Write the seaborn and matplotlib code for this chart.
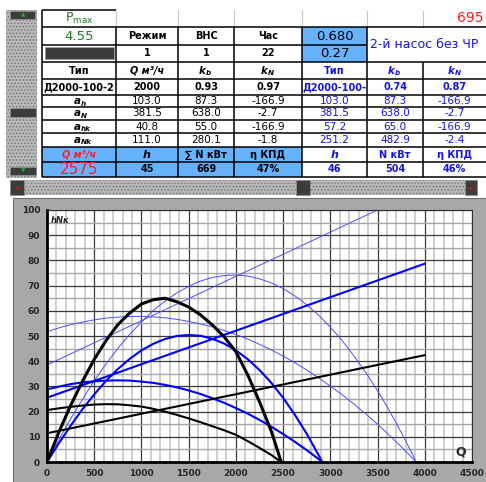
import matplotlib
matplotlib.use('Agg')
import matplotlib.pyplot as plt
import seaborn as sns
from matplotlib.patches import Rectangle

sns.set_style("white")
plt.rcParams['font.family'] = ['DejaVu Sans']
plt.rcParams['hatch.linewidth'] = 0.7

# ---- table values -------------------------------------------------------
p_max = "4.55"
total_power = "695"
mode_val, vns_val, hour_val = "1", "1", "22"
coef_top, coef_bottom = "0.680", "0.27"
second_pump_note = "2-й насос без ЧР"
pump_types = ["Д2000-100-2", "Д2000-100-"]
q_nominal = "2000"
k_b = ["0.93", "0.74"]
k_n = ["0.97", "0.87"]
a_h = [["103.0", "87.3", "-166.9"], ["103.0", "87.3", "-166.9"]]
a_n = [["381.5", "638.0", "-2.7"], ["381.5", "638.0", "-2.7"]]
a_hk = [["40.8", "55.0", "-166.9"], ["57.2", "65.0", "-166.9"]]
a_nk = [["111.0", "280.1", "-1.8"], ["251.2", "482.9", "-2.4"]]
q_total = "2575"
h_result = ["45", "46"]
n_result = ["669", "504"]
eta_result = ["47%", "46%"]

# ---- chart curves -------------------------------------------------------
q_black = [0, 125, 250, 375, 500, 625, 750, 875, 1000, 1125, 1250, 1375,
           1500, 1625, 1750, 1875, 2000, 2125, 2250, 2375, 2480]
h_black = [20.6, 21.3, 21.9, 22.4, 22.8, 22.95, 22.9, 22.5, 22.0, 21.1, 20.0,
           18.7, 17.3, 15.8, 14.2, 12.6, 10.8, 8.3, 5.6, 2.8, 0]
eta_black = [0, 11.8, 22.4, 32.0, 40.7, 48.2, 54.5, 59.1, 62.7, 64.4, 65.0,
             63.6, 61.5, 58.4, 54.4, 49.7, 43.8, 34.6, 23.9, 12.2, 0]

q_mid = [0, 125, 250, 375, 500, 625, 750, 875, 1000, 1125, 1250, 1375, 1500,
         1625, 1750, 1875, 2000, 2125, 2250, 2375, 2500, 2625, 2750, 2875, 2914]
h_mid = [28.8, 29.9, 30.9, 31.6, 32.0, 32.3, 32.4, 32.3, 31.9, 31.4, 30.6,
         29.6, 28.4, 27.0, 25.3, 23.5, 21.4, 19.2, 16.7, 14.0, 11.1, 8.0, 4.7,
         1.2, 0]
eta_mid = [0, 7.4, 14.4, 20.9, 26.8, 32.2, 36.9, 40.9, 44.3, 46.9, 48.8, 50.0,
           50.4, 50.1, 48.9, 47.0, 44.3, 40.8, 36.5, 31.4, 25.5, 18.7, 11.2,
           2.8, 0]

q_thin = [0, 125, 250, 375, 500, 625, 750, 875, 1000, 1125, 1250, 1375, 1500,
          1625, 1750, 1875, 2000, 2125, 2250, 2375, 2500, 2625, 2750, 2875,
          3000, 3125, 3250, 3375, 3500, 3625, 3750, 3875, 3905]
h_thin = [51.7, 53.2, 54.5, 55.5, 56.4, 57.1, 57.5, 57.7, 57.8, 57.6, 57.2,
          56.6, 55.8, 54.8, 53.6, 52.2, 50.6, 48.8, 46.7, 44.5, 42.0, 39.4,
          36.5, 33.4, 30.1, 26.7, 23.0, 19.1, 15.0, 10.6, 6.1, 1.4, 0]
eta_thin = [0, 8.8, 17.1, 24.9, 32.2, 38.9, 45.1, 50.6, 55.6, 60.1, 63.9, 67.1,
            69.7, 71.8, 73.2, 74.0, 74.2, 73.8, 72.7, 71.1, 68.8, 65.9, 62.4,
            58.3, 53.5, 48.2, 42.1, 35.5, 28.3, 20.4, 11.8, 2.7, 0]

q_power = [0, 4000]
n_black = [11.4, 42.4]
n_mid = [25.5, 78.7]
n_thin = [38.5, 108.8]

x_ticks = [0, 500, 1000, 1500, 2000, 2500, 3000, 3500, 4000, 4500]
y_ticks = [0, 10, 20, 30, 40, 50, 60, 70, 80, 90, 100]

W, H = 486, 482
fig = plt.figure(figsize=(W / 100, H / 100), dpi=100)
bg = fig.add_axes([0, 0, 1, 1], zorder=0)
bg.set_xlim(0, W)
bg.set_ylim(H, 0)
bg.axis('off')

BLUE_BG = '#66B2FF'
BLUE_TX = '#1414E6'
RED = '#FF1E1E'
GREEN = '#1E7B1E'


def box(x0, y0, x1, y1, fc, ec='none', lw=0, hatch=None, z=1):
    bg.add_patch(Rectangle((x0, y0), x1 - x0, y1 - y0, facecolor=fc,
                           edgecolor=ec, linewidth=lw, hatch=hatch, zorder=z))


def txt(x, y, s, color='black', size=7, weight='bold', style='normal', ha='center'):
    bg.text(x, y, s, color=color, fontsize=size, fontweight=weight,
            fontstyle=style, ha=ha, va='center', zorder=5)


def sub(x, y, main, low, color='black', size=7.5):
    bg.text(x, y, main, color=color, fontsize=size, fontweight='bold',
            fontstyle='italic', ha='right', va='center', zorder=5)
    bg.text(x, y + 2.5, low, color=color, fontsize=size * 0.7, fontweight='bold',
            fontstyle='italic', ha='left', va='center', zorder=5)


def hline(y, x0, x1, color='black', lw=1.1):
    bg.plot([x0, x1], [y, y], color=color, lw=lw, zorder=4, solid_capstyle='butt')


def vline(x, y0, y1, color='black', lw=1.1):
    bg.plot([x, x], [y0, y1], color=color, lw=lw, zorder=4, solid_capstyle='butt')


# ---- scrollbars ---------------------------------------------------------
box(6, 10, 37, 178, '#B8B8B8', ec='#7A7A7A', hatch='.....')
box(10, 11, 35, 19, '#3C3C3C', ec='#909090', lw=0.6, z=2)
bg.text(23, 15, '▲', color='#22AA22', fontsize=4, ha='center', va='center', zorder=5)
box(10, 108, 36, 117, '#3C3C3C', ec='#909090', lw=0.6, z=2)
box(10, 167, 36, 175, '#3C3C3C', ec='#909090', lw=0.6, z=2)
bg.text(23, 171, '▼', color='#22AA22', fontsize=4, ha='center', va='center', zorder=5)

box(10, 180, 477, 195, '#B8B8B8', ec='#7A7A7A', hatch='.....')
box(10, 180, 24, 195, '#3C3C3C', ec='#909090', lw=0.6, z=2)
bg.text(17, 187.5, '◄', color='#DD1111', fontsize=4.5, ha='center', va='center', zorder=5)
box(296, 180, 310, 195, '#3C3C3C', ec='#909090', lw=0.6, z=2)
box(465, 180, 477, 195, '#3C3C3C', ec='#909090', lw=0.6, z=2)
bg.text(471, 187.5, '►', color='#DD1111', fontsize=4.5, ha='center', va='center', zorder=5)

# ---- table ---------------------------------------------------------------
cols = [42, 116, 178, 234, 302, 367, 423, 486]
rows = [10, 27, 45, 62, 79, 95, 107, 120, 133, 147, 162, 177]
cx = [(cols[i] + cols[i + 1]) / 2 for i in range(7)]
cy = [(rows[i] + rows[i + 1]) / 2 for i in range(11)]

box(302, 27, 367, 62, BLUE_BG)
box(42, 147, 302, 177, BLUE_BG)

# row 0 light separators
for x in cols[1:-1]:
    vline(x, 10, 27, color='#C8C8C8', lw=0.8)
hline(10, 42, 116)
vline(42, 10, 177)
hline(27, 42, 486)
for x in cols[1:-1]:
    top = 62 if x == 423 else 27
    vline(x, top, 177)
for i, y in enumerate(rows[2:], start=2):
    if i == 2:
        hline(y, 42, 367)
    else:
        hline(y, 42, 486)

bg.text(cx[0], cy[0], r'$\mathregular{P_{max}}$', color=GREEN, fontsize=9,
        ha='center', va='center', zorder=5)
txt(483, cy[0], total_power, color=RED, size=10, weight='normal', ha='right')

txt(cx[0], cy[1], p_max, color=GREEN, size=9.5, weight='normal')
txt(cx[1], cy[1], "Режим")
txt(cx[2], cy[1], "ВНС")
txt(cx[3], cy[1], "Час")
txt(cx[4], cy[1], coef_top, size=9.5, weight='normal')
txt(370, 44, second_pump_note, color=BLUE_TX, size=9, weight='normal', ha='left')

box(45, 47, 114, 59, '#3C3C3C', ec='#A0A0A0', lw=0.7, z=2)
txt(cx[1], cy[2], mode_val)
txt(cx[2], cy[2], vns_val)
txt(cx[3], cy[2], hour_val)
txt(cx[4], cy[2], coef_bottom, size=9.5, weight='normal')

txt(cx[0], cy[3], "Тип")
txt(cx[1], cy[3], "Q м³/ч", style='italic')
sub(cx[2], cy[3], "k", "b")
sub(cx[3], cy[3], "k", "N")
txt(cx[4], cy[3], "Тип", color=BLUE_TX)
sub(cx[5], cy[3], "k", "b", color=BLUE_TX)
sub(cx[6], cy[3], "k", "N", color=BLUE_TX)

txt(cx[0], cy[4], pump_types[0], size=7)
txt(cx[1], cy[4], q_nominal)
txt(cx[2], cy[4], k_b[0])
txt(cx[3], cy[4], k_n[0])
txt(cx[4], cy[4], pump_types[1], color=BLUE_TX, size=7)
txt(cx[5], cy[4], k_b[1], color=BLUE_TX)
txt(cx[6], cy[4], k_n[1], color=BLUE_TX)

coef_rows = [("a", "h", a_h), ("a", "N", a_n), ("a", "hk", a_hk), ("a", "Nk", a_nk)]
for r, (m, s, vals) in enumerate(coef_rows, start=5):
    sub(cx[0] + 2, cy[r], m, s)
    for j in range(3):
        txt(cx[1 + j], cy[r], vals[0][j], weight='normal', size=7.5)
        txt(cx[4 + j], cy[r], vals[1][j], color=BLUE_TX, weight='normal', size=7.5)

txt(cx[0], cy[9], "Q м³/ч", color=RED, style='italic')
txt(cx[1], cy[9], "h", style='italic', size=8)
txt(cx[2], cy[9], "∑ N кВт")
txt(cx[3], cy[9], "η КПД")
txt(cx[4], cy[9], "h", color=BLUE_TX, style='italic', size=8)
txt(cx[5], cy[9], "N кВт", color=BLUE_TX)
txt(cx[6], cy[9], "η КПД", color=BLUE_TX)

txt(cx[0], cy[10], q_total, color=RED, size=11, weight='normal')
txt(cx[1], cy[10], h_result[0])
txt(cx[2], cy[10], n_result[0])
txt(cx[3], cy[10], eta_result[0])
txt(cx[4], cy[10], h_result[1], color=BLUE_TX)
txt(cx[5], cy[10], n_result[1], color=BLUE_TX)
txt(cx[6], cy[10], eta_result[1], color=BLUE_TX)

# ---- chart frame ---------------------------------------------------------
box(13, 198, 487, 483, '#A8A8A8', ec='#6E6E6E', lw=0.8)

ax = fig.add_axes([47 / W, 1 - 462 / H, 425 / W, 252 / H], zorder=2)
ax.set_facecolor('white')

curves = [
    (q_thin, h_thin, '#4D4DFF', 0.7),
    (q_thin, eta_thin, '#4D4DFF', 0.7),
    (q_power, n_thin, '#4D4DFF', 0.7),
    (q_mid, h_mid, '#0000FF', 1.5),
    (q_mid, eta_mid, '#0000FF', 1.5),
    (q_power, n_mid, '#0000FF', 1.5),
    (q_black, h_black, 'black', 1.5),
    (q_power, n_black, 'black', 1.5),
    (q_black, eta_black, 'black', 2.2),
]
for qx, vy, col, lw in curves:
    sns.lineplot(x=qx, y=vy, ax=ax, color=col, linewidth=lw, estimator=None,
                 sort=False)

ax.set_xlim(0, 4500)
ax.set_ylim(0, 100)
ax.set_xticks(x_ticks)
ax.set_yticks(y_ticks)
ax.set_xticks(range(0, 4501, 100), minor=True)
ax.set_yticks(range(0, 101, 5), minor=True)
ax.set_axisbelow(True)
ax.xaxis.grid(True, which='minor', color='#C6C6C6', lw=1.2)
ax.yaxis.grid(True, which='minor', color='#A4A4A4', lw=1.0)
ax.xaxis.grid(True, which='major', color='#3A3A3A', lw=0.9)
ax.yaxis.grid(True, which='major', color='#3A3A3A', lw=0.9)
ax.tick_params(axis='both', which='major', length=3, width=0.8, color='black',
               labelsize=6.5, pad=2)
ax.tick_params(axis='x', which='minor', length=0)
ax.tick_params(axis='y', which='minor', length=2, color='#404040')
ax.set_xticklabels([str(v) for v in x_ticks], fontweight='bold')
ax.set_yticklabels([str(v) for v in y_ticks], fontweight='bold')
ax.set_xlabel('')
ax.set_ylabel('')
for side in ['left', 'bottom']:
    ax.spines[side].set_linewidth(2)
    ax.spines[side].set_color('black')
for side in ['top', 'right']:
    ax.spines[side].set_linewidth(0.8)
    ax.spines[side].set_color('#303030')

ax.text(0.008, 0.975, "hNκ", transform=ax.transAxes, fontsize=6,
        fontweight='bold', fontstyle='italic', ha='left', va='top')
ax.text(0.985, 0.012, "Q", transform=ax.transAxes, fontsize=9,
        fontweight='bold', ha='right', va='bottom')

fig.savefig('out.png', dpi=100, facecolor='white')
plt.close(fig)
